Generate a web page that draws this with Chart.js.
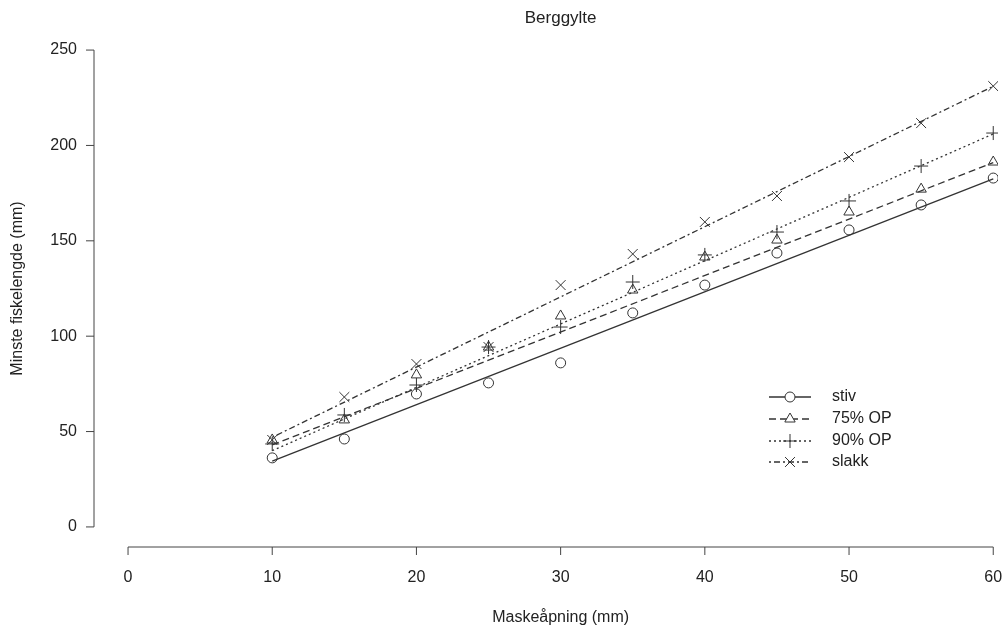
<!DOCTYPE html>
<html>
<head>
<meta charset="utf-8">
<script src="https://cdn.jsdelivr.net/npm/chart.js@4"></script>
<style>
  body { margin: 0; background: #fff; }
  #wrap { width: 1006px; height: 632px; }
</style>
</head>
<body>
<div id="wrap"><canvas id="myChart" width="1006" height="632"></canvas></div>
<script>
// Data
const maskeapning = [10, 15, 20, 25, 30, 35, 40, 45, 50, 55, 60];
const stiv = [36.2, 46.1, 69.7, 75.5, 86, 112.2, 126.8, 143.6, 155.7, 168.8, 182.9];
const op75 = [45.6, 56.1, 79.7, 94.3, 110.6, 124.2, 141.5, 150.4, 165.1, 177.1, 191.3];
const op90 = [43.5, 58.7, 74.4, 94.3, 104.8, 128.4, 142.6, 154.6, 170.9, 189.2, 206.5];
const slakk = [45.6, 68.1, 85.4, 94.3, 126.8, 143.1, 159.9, 173.5, 193.9, 211.7, 231.1];

// fitted lines (ends)
const fitX = [10, 60];
const fitStiv = [34.5, 182.5];
const fitOp75 = [43, 191];
const fitOp90 = [40, 206];
const fitSlakk = [47, 231];

const seriesNames = ["stiv", "75% OP", "90% OP", "slakk"];
const xTicks = [0, 10, 20, 30, 40, 50, 60];
const yTicks = [0, 50, 100, 150, 200, 250];

const ink = "#333";
const font = "'Liberation Sans', Arial, sans-serif";

const toXY = (xs, ys) => xs.map((x, i) => ({ x, y: ys[i] }));

const styles = [
  { pointStyle: "circle", radius: 5, dash: [] },
  { pointStyle: "triangle", radius: 6, dash: [7, 4] },
  { pointStyle: "cross", radius: 7, dash: [2, 3] },
  { pointStyle: "crossRot", radius: 7, dash: [2, 3, 6, 3] },
];
const pointSets = [stiv, op75, op90, slakk];
const fitSets = [fitStiv, fitOp75, fitOp90, fitSlakk];

const datasets = [];
seriesNames.forEach((name, i) => {
  datasets.push({
    label: name,
    data: toXY(maskeapning, pointSets[i]),
    showLine: false,
    pointStyle: styles[i].pointStyle,
    pointRadius: styles[i].radius,
    pointBorderColor: ink,
    pointBackgroundColor: "rgba(0,0,0,0)",
    pointBorderWidth: 1,
  });
  datasets.push({
    label: name + " fit",
    data: toXY(fitX, fitSets[i]),
    showLine: true,
    borderColor: ink,
    borderWidth: 1.3,
    borderDash: styles[i].dash,
    pointRadius: 0,
  });
});

// R-style axes, title and legend
const rStyle = {
  id: "rStyle",
  afterDraw(chart) {
    const c = chart.ctx;
    const xs = chart.scales.x;
    const ys = chart.scales.y;
    const area = chart.chartArea;
    c.save();
    c.strokeStyle = "#444";
    c.fillStyle = "#222";
    c.lineWidth = 1;

    // x axis
    const xy = area.bottom + 1;
    c.beginPath();
    c.moveTo(xs.getPixelForValue(xTicks[0]), xy);
    c.lineTo(xs.getPixelForValue(xTicks[xTicks.length - 1]), xy);
    xTicks.forEach((t) => {
      const px = xs.getPixelForValue(t);
      c.moveTo(px, xy);
      c.lineTo(px, xy + 8);
    });
    c.stroke();
    c.font = `16px ${font}`;
    c.textAlign = "center";
    c.textBaseline = "middle";
    xTicks.forEach((t) => c.fillText(String(t), xs.getPixelForValue(t), 578));
    c.fillText("Maskeåpning (mm)", (xs.getPixelForValue(0) + xs.getPixelForValue(60)) / 2, 618);

    // y axis
    const yx = area.left;
    c.beginPath();
    c.moveTo(yx, ys.getPixelForValue(yTicks[0]));
    c.lineTo(yx, ys.getPixelForValue(yTicks[yTicks.length - 1]));
    yTicks.forEach((t) => {
      const py = ys.getPixelForValue(t);
      c.moveTo(yx, py);
      c.lineTo(yx - 8, py);
    });
    c.stroke();
    c.textAlign = "right";
    yTicks.forEach((t) => c.fillText(String(t), 77, ys.getPixelForValue(t)));

    c.save();
    c.translate(18, (ys.getPixelForValue(0) + ys.getPixelForValue(250)) / 2);
    c.rotate(-Math.PI / 2);
    c.textAlign = "center";
    c.fillText("Minste fiskelengde (mm)", 0, 0);
    c.restore();

    // title
    c.textAlign = "center";
    c.font = `17px ${font}`;
    c.fillText("Berggylte", (xs.getPixelForValue(0) + xs.getPixelForValue(60)) / 2, 18);

    // legend
    c.font = `16px ${font}`;
    c.textAlign = "left";
    const rowsY = [397, 419, 441, 462];
    seriesNames.forEach((name, i) => {
      const ly = rowsY[i];
      c.save();
      c.strokeStyle = ink;
      c.lineWidth = 1.3;
      c.setLineDash(styles[i].dash);
      c.beginPath();
      c.moveTo(769, ly);
      c.lineTo(811, ly);
      c.stroke();
      c.restore();
      c.save();
      c.strokeStyle = ink;
      c.fillStyle = "#fff";
      c.lineWidth = 1;
      Chart.helpers.drawPoint(c, {
        pointStyle: styles[i].pointStyle,
        radius: styles[i].radius,
        rotation: 0,
        borderWidth: 1,
      }, 790, ly);
      c.restore();
      c.fillText(name, 832, ly);
    });
    c.restore();
  },
};

const ctx = document.getElementById("myChart");
new Chart(ctx, {
  type: "scatter",
  data: { datasets },
  options: {
    responsive: false,
    animation: false,
    layout: { padding: { left: 94, top: 31, right: 6, bottom: 86 } },
    plugins: { legend: { display: false }, title: { display: false }, tooltip: { enabled: false } },
    scales: {
      x: { type: "linear", min: -2.36, max: 60.33, display: false },
      y: { type: "linear", min: -10, max: 260, display: false },
    },
  },
  plugins: [rStyle],
});
</script>
</body>
</html>
